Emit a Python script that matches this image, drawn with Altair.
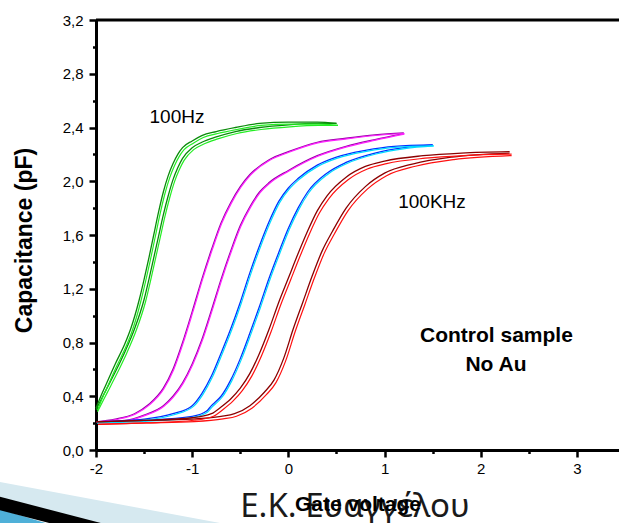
import altair as alt
import pandas as pd

# ---------------- data ----------------
# 100 Hz (green) - two sweep branches
g_a_x = [-2.0, -1.95, -1.9, -1.8, -1.7, -1.64, -1.55, -1.5, -1.45, -1.4, -1.35, -1.3, -1.25, -1.2, -1.15, -1.1, -1.0, -0.9, -0.75, -0.55, -0.3, 0.0, 0.3, 0.5]
g_a_y = [0.31, 0.40, 0.48, 0.64, 0.79, 0.90, 1.12, 1.27, 1.43, 1.60, 1.77, 1.92, 2.04, 2.13, 2.20, 2.25, 2.30, 2.34, 2.37, 2.40, 2.43, 2.44, 2.44, 2.43]
g_b_x = [-2.0, -1.95, -1.9, -1.8, -1.7, -1.6, -1.5, -1.45, -1.4, -1.35, -1.3, -1.25, -1.2, -1.15, -1.1, -1.0, -0.9, -0.75, -0.55, -0.3, 0.0, 0.3, 0.5]
g_b_y = [0.30, 0.37, 0.44, 0.58, 0.73, 0.90, 1.12, 1.27, 1.43, 1.59, 1.75, 1.89, 2.01, 2.10, 2.17, 2.25, 2.29, 2.33, 2.37, 2.40, 2.42, 2.43, 2.43]

# intermediate frequency (magenta)
m_a_x = [-2.0, -1.8, -1.6, -1.45, -1.3, -1.2, -1.1, -1.0, -0.9, -0.8, -0.7, -0.6, -0.5, -0.4, -0.2, 0.0, 0.3, 0.6, 0.9, 1.2]
m_a_y = [0.21, 0.23, 0.27, 0.34, 0.46, 0.60, 0.80, 1.03, 1.27, 1.49, 1.69, 1.84, 1.96, 2.05, 2.16, 2.22, 2.29, 2.32, 2.345, 2.36]
m_b_x = [-2.0, -1.7, -1.5, -1.3, -1.2, -1.1, -1.0, -0.9, -0.8, -0.7, -0.6, -0.5, -0.4, -0.3, -0.2, 0.0, 0.3, 0.6, 0.9, 1.2]
m_b_y = [0.21, 0.22, 0.26, 0.33, 0.40, 0.50, 0.64, 0.82, 1.04, 1.27, 1.48, 1.67, 1.81, 1.92, 1.99, 2.08, 2.19, 2.26, 2.31, 2.355]

# intermediate frequency (blue)
b_a_x = [-2.0, -1.5, -1.2, -1.0, -0.9, -0.8, -0.7, -0.6, -0.5, -0.4, -0.3, -0.2, -0.1, 0.0, 0.1, 0.3, 0.5, 0.8, 1.1, 1.5]
b_a_y = [0.21, 0.23, 0.27, 0.33, 0.42, 0.55, 0.72, 0.90, 1.10, 1.32, 1.52, 1.70, 1.85, 1.95, 2.02, 2.12, 2.18, 2.23, 2.26, 2.27]
b_b_x = [-2.0, -1.5, -1.0, -0.85, -0.8, -0.77, -0.7, -0.6, -0.5, -0.4, -0.3, -0.2, -0.1, 0.0, 0.1, 0.2, 0.4, 0.6, 0.9, 1.2, 1.5]
b_b_y = [0.21, 0.22, 0.25, 0.29, 0.33, 0.35, 0.40, 0.52, 0.68, 0.87, 1.07, 1.28, 1.47, 1.65, 1.80, 1.92, 2.06, 2.14, 2.21, 2.25, 2.27]

# 100 kHz (red)
r_a_x = [-2.0, -1.5, -1.0, -0.8, -0.7, -0.6, -0.5, -0.4, -0.3, -0.2, -0.1, 0.0, 0.1, 0.2, 0.3, 0.4, 0.6, 0.8, 1.0, 1.4, 1.8, 2.3]
r_a_y = [0.21, 0.22, 0.24, 0.27, 0.32, 0.38, 0.46, 0.57, 0.72, 0.90, 1.10, 1.28, 1.46, 1.63, 1.78, 1.89, 2.03, 2.11, 2.15, 2.19, 2.21, 2.22]
r_b_x = [-2.0, -1.5, -1.0, -0.7, -0.56, -0.4, -0.25, -0.15, -0.05, 0.05, 0.15, 0.25, 0.35, 0.46, 0.6, 0.8, 1.0, 1.3, 1.7, 2.3]
r_b_y = [0.21, 0.22, 0.23, 0.25, 0.27, 0.33, 0.43, 0.52, 0.68, 0.90, 1.10, 1.30, 1.48, 1.63, 1.80, 1.96, 2.06, 2.13, 2.18, 2.21]

freqs = ["green", "magenta", "blue", "red"]
dark_colors = ["#0a8a0a", "#9a00a8", "#0030ff", "#8b0000"]
light_colors = ["#22ee22", "#ff22ff", "#00dcff", "#ff1010"]

x_ticks = [-2, -1.5, -1, -0.5, 0, 0.5, 1, 1.5, 2, 2.5, 3]
y_ticks = [0.0, 0.2, 0.4, 0.6, 0.8, 1.0, 1.2, 1.4, 1.6, 1.8, 2.0, 2.2, 2.4, 2.6, 2.8, 3.0, 3.2]

ann_text = ["100Hz", "100KHz"]
ann_x = [-1.158, 1.493]
ann_y = [2.478, 1.849]
note_text = ["Control sample", "No Au"]
note_x = [2.163, 2.158]
note_y = [0.848, 0.633]
footer_text = ["Ε.Κ. Ευαγγέλου"]

# ---------------- tables ----------------
series = [
    ("green", "a", g_a_x, g_a_y), ("green", "b", g_b_x, g_b_y),
    ("magenta", "a", m_a_x, m_a_y), ("magenta", "b", m_b_x, m_b_y),
    ("blue", "a", b_a_x, b_a_y), ("blue", "b", b_b_x, b_b_y),
    ("red", "a", r_a_x, r_a_y), ("red", "b", r_b_x, r_b_y),
]
rows = []
for f, br, xs, ys in series:
    for i, (xv, yv) in enumerate(zip(xs, ys)):
        rows.append({"freq": f, "branch": br, "i": i, "v": xv, "c": yv})
df = pd.DataFrame(rows)

ann_df = pd.DataFrame({"t": ann_text, "v": ann_x, "c": ann_y})
note_df = pd.DataFrame({"t": note_text, "v": note_x, "c": note_y})
foot_df = pd.DataFrame({"t": footer_text})

FONT = "Liberation Sans"
W, H = 523, 430

x_axis = alt.Axis(
    values=x_ticks,
    labelExpr="datum.value % 1 == 0 ? '' + datum.value : ''",
    tickSize={"condition": {"test": "datum.value % 1 != 0", "value": 3.5}, "value": 7},
    tickWidth=2.5, tickColor="black",
    domainColor="black", domainWidth=3,
    labelFont=FONT, labelFontSize=15, labelColor="black", labelPadding=4,
    labelOverlap=False, labelFlush=False, grid=False,
    title="Gate voltage", titleFont=FONT, titleFontSize=21, titleFontWeight="bold",
    titleColor="black", titleBaseline="alphabetic", titleY=60,
    zindex=2,
)
y_axis = alt.Axis(
    values=y_ticks,
    labelExpr="round(datum.value * 10) % 4 == 0 ? replace(format(datum.value, '.1f'), '.', ',') : ''",
    tickSize={"condition": {"test": "round(datum.value * 10) % 4 != 0", "value": 3.5}, "value": 7},
    tickWidth=2.5, tickColor="black",
    domainColor="black", domainWidth=3,
    labelFont=FONT, labelFontSize=15, labelColor="black", labelPadding=6,
    labelOverlap=False, labelFlush=False, grid=False,
    title="Capacitance (pF)", titleFont=FONT, titleFontSize=23, titleFontWeight="bold",
    titleColor="black", titleBaseline="alphabetic", titleX=-65, titleY=220,
)

X = alt.X("v:Q", scale=alt.Scale(domain=[-2, 3.437], nice=False, zero=False), axis=x_axis)
Y = alt.Y("c:Q", scale=alt.Scale(domain=[0, 3.2], nice=False, zero=False), axis=y_axis)

offsets = {"green": (1.5, 2.0), "magenta": (0.6, 0.6), "blue": (1.0, 1.0), "red": (2.0, 2.5)}

layers = []

# slide decoration (bottom-left)
deco = alt.Chart(foot_df)
layers.append(deco.mark_rule(color="#d6e9f0", strokeWidth=30).encode(
    x=alt.value(-116), y=alt.value(473.6), x2=alt.value(164), y2=alt.value(525.7)))
layers.append(deco.mark_rule(color="#4fb0d8", strokeWidth=30).encode(
    x=alt.value(-116), y=alt.value(499), x2=alt.value(-16), y2=alt.value(529)))
layers.append(deco.mark_rule(color="black", strokeWidth=13).encode(
    x=alt.value(-116), y=alt.value(478.3), x2=alt.value(44), y2=alt.value(519.9)))

# slide footer (drawn beneath the axis title)
layers.append(alt.Chart(foot_df).mark_text(font="Noto Sans", fontSize=33, color="#1a1a1a",
                                            align="center", baseline="alphabetic").encode(
    x=alt.value(259), y=alt.value(497), text="t:N"))

for f, dc, lc in zip(freqs, dark_colors, light_colors):
    base = alt.Chart(df).transform_filter(alt.datum.freq == f)
    dx, dy = offsets[f]
    layers.append(base.mark_line(color=dc, strokeWidth=1.3, interpolate="monotone").encode(
        x=X, y=Y, detail="branch:N", order="i:Q"))
    layers.append(base.mark_line(color=lc, strokeWidth=1.2, interpolate="monotone",
                                 xOffset=dx, yOffset=dy).encode(
        x=X, y=Y, detail="branch:N", order="i:Q"))

# top frame line
layers.append(alt.Chart(foot_df).mark_rule(color="black", strokeWidth=3).encode(
    x=alt.value(0), x2=alt.value(W), y=alt.value(0)))

layers.append(alt.Chart(ann_df).mark_text(font=FONT, fontSize=19, color="black",
                                           align="center", baseline="middle").encode(
    x=X, y=Y, text="t:N"))
layers.append(alt.Chart(note_df).mark_text(font=FONT, fontSize=21, fontWeight="bold", color="black",
                                            align="center", baseline="middle").encode(
    x=X, y=Y, text="t:N"))

chart = alt.layer(*layers).properties(
    width=W, height=H,
    autosize=alt.AutoSizeParams(type="none"),
    padding={"left": 96, "top": 20, "right": 0, "bottom": 73},
    background="white",
).configure_view(stroke=None)

chart.save("out.html", embed_options={"renderer": "svg", "actions": False})
